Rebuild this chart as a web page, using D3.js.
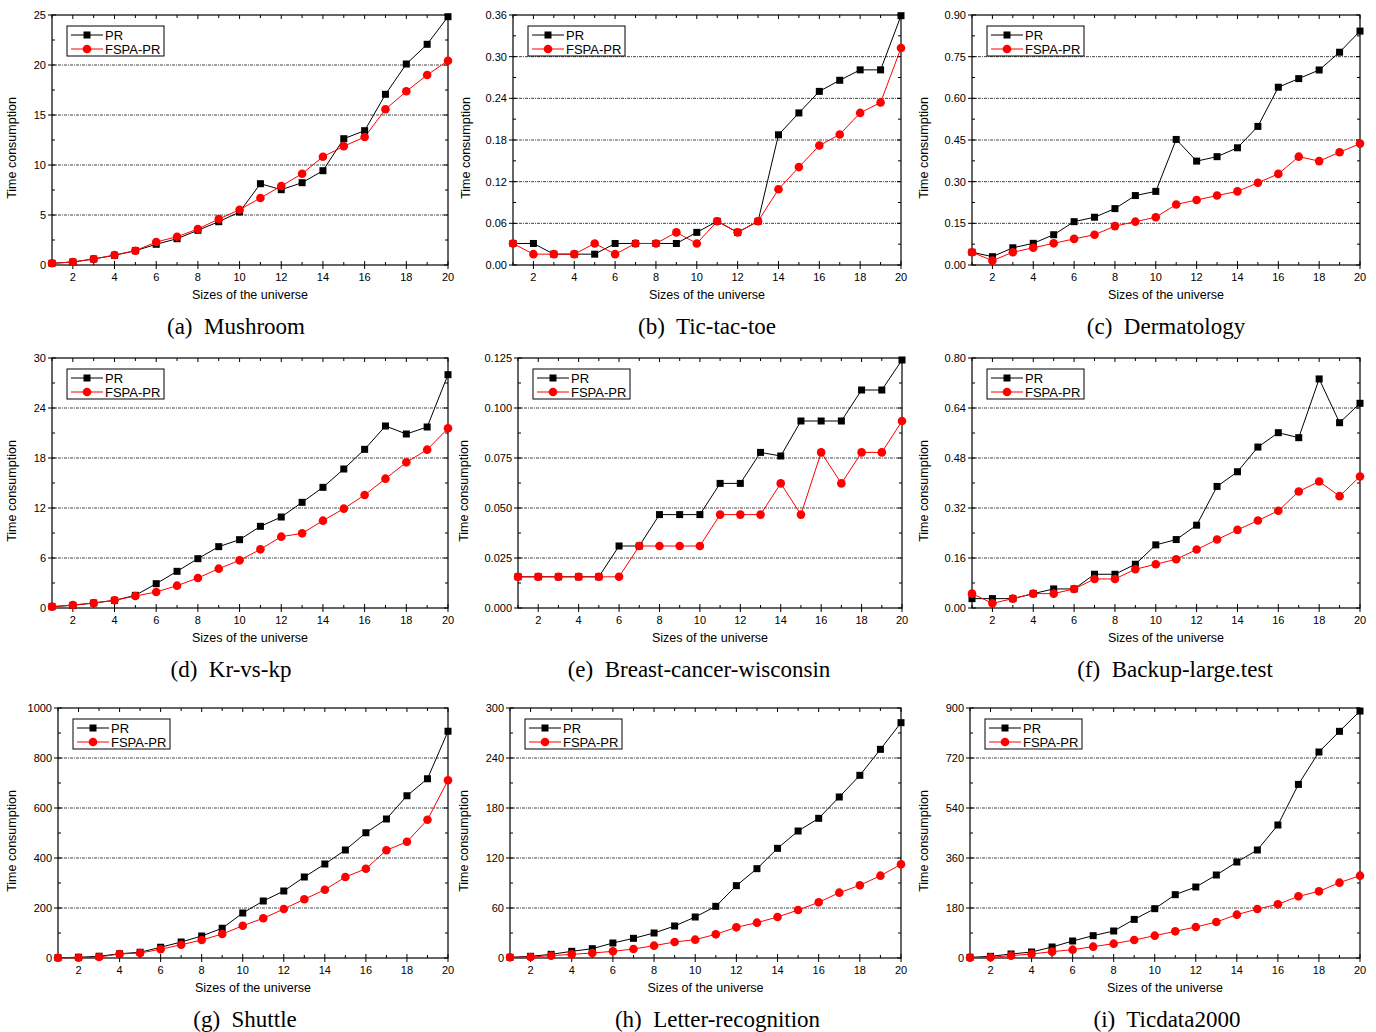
<!DOCTYPE html>
<html>
<head>
<meta charset="utf-8">
<script src="https://cdn.jsdelivr.net/npm/d3@7"></script>
<style>
    body { margin: 0; background: #fff; }
    svg text { font-family: "Liberation Sans", Arial, sans-serif; }
</style>
</head>
<body>
<svg id="chart" width="1376" height="1032"></svg>
<script>
const sizes = d3.range(1, 21);

const mushroomPR = [0.17, 0.3, 0.6, 0.97, 1.43, 2.07, 2.63, 3.47, 4.33, 5.3, 8.13, 7.53, 8.23, 9.43, 12.63, 13.43, 17.07, 20.1, 22.07, 24.83];
const mushroomFSPA = [0.17, 0.3, 0.6, 1.0, 1.43, 2.3, 2.83, 3.6, 4.6, 5.53, 6.7, 7.9, 9.13, 10.83, 11.87, 12.8, 15.57, 17.37, 19.0, 20.43];

const tictactoePR = [0.031, 0.031, 0.0156, 0.0156, 0.0156, 0.031, 0.031, 0.031, 0.031, 0.047, 0.063, 0.047, 0.063, 0.1875, 0.219, 0.25, 0.266, 0.281, 0.281, 0.359];
const tictactoeFSPA = [0.031, 0.0156, 0.0156, 0.0156, 0.031, 0.0156, 0.031, 0.031, 0.047, 0.031, 0.063, 0.047, 0.063, 0.109, 0.141, 0.172, 0.188, 0.219, 0.234, 0.3125];

const dermatologyPR = [0.046, 0.03, 0.062, 0.078, 0.109, 0.156, 0.172, 0.203, 0.25, 0.265, 0.452, 0.374, 0.39, 0.422, 0.499, 0.64, 0.671, 0.702, 0.766, 0.842];
const dermatologyFSPA = [0.046, 0.0156, 0.046, 0.062, 0.078, 0.094, 0.109, 0.14, 0.156, 0.172, 0.218, 0.234, 0.25, 0.265, 0.296, 0.328, 0.39, 0.374, 0.406, 0.437];

const krvskpPR = [0.16, 0.32, 0.6, 0.92, 1.52, 2.92, 4.4, 5.92, 7.36, 8.2, 9.8, 10.92, 12.68, 14.48, 16.68, 19.04, 21.84, 20.88, 21.72, 28.0];
const krvskpFSPA = [0.16, 0.36, 0.6, 0.92, 1.44, 1.92, 2.68, 3.6, 4.72, 5.72, 7.04, 8.56, 8.96, 10.48, 11.92, 13.56, 15.52, 17.48, 19.0, 21.56];

const breastPR = [0.0156, 0.0156, 0.0156, 0.0156, 0.0156, 0.031, 0.031, 0.0467, 0.0467, 0.0467, 0.0623, 0.0623, 0.0778, 0.076, 0.0935, 0.0935, 0.0935, 0.109, 0.109, 0.124];
const breastFSPA = [0.0156, 0.0156, 0.0156, 0.0156, 0.0156, 0.0156, 0.031, 0.031, 0.031, 0.031, 0.0467, 0.0467, 0.0467, 0.0623, 0.0467, 0.0778, 0.0623, 0.0778, 0.0778, 0.0935];

const backupPR = [0.03, 0.03, 0.03, 0.046, 0.061, 0.061, 0.108, 0.108, 0.14, 0.202, 0.219, 0.265, 0.389, 0.436, 0.515, 0.561, 0.545, 0.733, 0.593, 0.655];
const backupFSPA = [0.046, 0.015, 0.03, 0.046, 0.046, 0.061, 0.093, 0.093, 0.124, 0.14, 0.156, 0.187, 0.219, 0.25, 0.28, 0.311, 0.373, 0.405, 0.358, 0.421];

const shuttlePR = [1, 3, 7, 17, 23, 43, 64, 88, 119, 180, 228, 268, 324, 376, 432, 501, 556, 649, 717, 907];
const shuttleFSPA = [1, 1, 4, 16, 20, 35, 53, 72, 96, 129, 159, 196, 235, 273, 324, 357, 431, 465, 553, 711];

const letterPR = [0.8, 2, 4.4, 8, 11.2, 18, 23.6, 30, 38.4, 49.2, 62, 86.8, 107.2, 131.6, 152.4, 167.6, 193.2, 219.2, 250.4, 282.4];
const letterFSPA = [0.8, 1.2, 2.8, 4.4, 6, 8, 10.8, 14.8, 19.2, 22, 28.4, 36.8, 42.4, 49.2, 57.6, 66.8, 78.4, 87.2, 98.8, 112.4];

const ticdataPR = [2.4, 6, 14.4, 21.6, 39.6, 61.2, 80.4, 97.2, 139, 177.6, 228, 255.6, 298.8, 345.6, 388.8, 478.8, 625, 741.6, 816, 889];
const ticdataFSPA = [1.2, 2.4, 8.4, 14.4, 22.8, 30, 40.8, 51.6, 64.8, 80.4, 96, 111.6, 129.6, 156, 176.4, 193.2, 222, 240, 271.2, 296.4];

const seriesNames = ["PR", "FSPA-PR"];

const panels = [
    {caption: "(a)  Mushroom", pr: mushroomPR, fspa: mushroomFSPA, yMax: 25, yStep: 5, fmt: "d", left: 52, right: 448, top: 15, bottom: 265, titleX: 16, capDx: -14},
    {caption: "(b)  Tic-tac-toe", pr: tictactoePR, fspa: tictactoeFSPA, yMax: 0.36, yStep: 0.06, fmt: ".2f", left: 513, right: 901, top: 15, bottom: 265, titleX: 470, capDx: 0},
    {caption: "(c)  Dermatology", pr: dermatologyPR, fspa: dermatologyFSPA, yMax: 0.9, yStep: 0.15, fmt: ".2f", left: 972, right: 1360, top: 15, bottom: 265, titleX: 928, capDx: 0},
    {caption: "(d)  Kr-vs-kp", pr: krvskpPR, fspa: krvskpFSPA, yMax: 30, yStep: 6, fmt: "d", left: 52, right: 448, top: 358, bottom: 608, titleX: 16, capDx: -19},
    {caption: "(e)  Breast-cancer-wisconsin", pr: breastPR, fspa: breastFSPA, yMax: 0.125, yStep: 0.025, fmt: ".3f", left: 518, right: 902, top: 358, bottom: 608, titleX: 468, capDx: -11},
    {caption: "(f)  Backup-large.test", pr: backupPR, fspa: backupFSPA, yMax: 0.8, yStep: 0.16, fmt: ".2f", left: 972, right: 1360, top: 358, bottom: 608, titleX: 928, capDx: 9},
    {caption: "(g)  Shuttle", pr: shuttlePR, fspa: shuttleFSPA, yMax: 1000, yStep: 200, fmt: "d", left: 58, right: 448, top: 708, bottom: 958, titleX: 16, capDx: -8},
    {caption: "(h)  Letter-recognition", pr: letterPR, fspa: letterFSPA, yMax: 300, yStep: 60, fmt: "d", left: 510, right: 901, top: 708, bottom: 958, titleX: 468, capDx: 12},
    {caption: "(i)  Ticdata2000", pr: ticdataPR, fspa: ticdataFSPA, yMax: 900, yStep: 180, fmt: "d", left: 970, right: 1360, top: 708, bottom: 958, titleX: 928, capDx: 2},
];

const svg = d3.select("#chart");

function drawPanel(p) {
    const x = d3.scaleLinear().domain([1, 20]).range([p.left, p.right]);
    const y = d3.scaleLinear().domain([0, p.yMax]).range([p.bottom, p.top]);
    const g = svg.append("g");

    const majorY = d3.range(0, p.yMax + p.yStep / 2, p.yStep);
    const minorY = d3.range(p.yStep / 2, p.yMax, p.yStep);
    const majorX = d3.range(2, 21, 2);
    const minorX = d3.range(1, 21, 2);

    // grid
    g.selectAll(".grid")
        .data(majorY.slice(1, -1))
        .enter()
        .append("line")
        .attr("x1", p.left).attr("x2", p.right)
        .attr("y1", d => y(d)).attr("y2", d => y(d))
        .attr("stroke", "#444")
        .attr("stroke-width", 1)
        .attr("stroke-dasharray", "3,1,1,1");

    // frame
    g.append("rect")
        .attr("x", p.left).attr("y", p.top)
        .attr("width", p.right - p.left).attr("height", p.bottom - p.top)
        .attr("fill", "none").attr("stroke", "#000").attr("stroke-width", 1.2);

    // ticks on all four sides
    const tickLines = [];
    majorY.forEach(v => {
        tickLines.push([p.left - 4, y(v), p.left + 4, y(v)]);
        tickLines.push([p.right - 4, y(v), p.right, y(v)]);
    });
    minorY.forEach(v => {
        tickLines.push([p.left, y(v), p.left + 3, y(v)]);
        tickLines.push([p.right - 3, y(v), p.right, y(v)]);
    });
    majorX.forEach(v => {
        tickLines.push([x(v), p.bottom + 4, x(v), p.bottom - 4]);
        tickLines.push([x(v), p.top, x(v), p.top + 4]);
    });
    minorX.forEach(v => {
        tickLines.push([x(v), p.bottom, x(v), p.bottom - 3]);
        tickLines.push([x(v), p.top, x(v), p.top + 3]);
    });
    g.selectAll(".tick")
        .data(tickLines)
        .enter()
        .append("line")
        .attr("x1", d => d[0]).attr("y1", d => d[1])
        .attr("x2", d => d[2]).attr("y2", d => d[3])
        .attr("stroke", "#000").attr("stroke-width", 1);

    const fmt = d3.format(p.fmt);
    g.selectAll(".ylab")
        .data(majorY)
        .enter()
        .append("text")
        .attr("x", p.left - 6)
        .attr("y", d => y(d) + 4)
        .attr("text-anchor", "end")
        .style("font-size", "11px")
        .text(d => fmt(d));

    g.selectAll(".xlab")
        .data(majorX)
        .enter()
        .append("text")
        .attr("x", d => x(d))
        .attr("y", p.bottom + 16)
        .attr("text-anchor", "middle")
        .style("font-size", "11px")
        .text(d => d);

    const midX = (p.left + p.right) / 2;
    g.append("text")
        .attr("x", midX)
        .attr("y", p.bottom + 34)
        .attr("text-anchor", "middle")
        .style("font-size", "12.5px")
        .text("Sizes of the universe");

    g.append("text")
        .attr("transform", `translate(${p.titleX}, ${(p.top + p.bottom) / 2 + 8}) rotate(-90)`)
        .attr("text-anchor", "middle")
        .style("font-size", "12.5px")
        .text("Time consumption");

    // caption
    g.append("text")
        .attr("x", midX + p.capDx)
        .attr("y", p.bottom + 69)
        .attr("text-anchor", "middle")
        .style("font-family", "'Liberation Serif', 'Times New Roman', serif")
        .style("font-size", "23px")
        .style("white-space", "pre")
        .text(p.caption);

    // lines and markers
    const line = d3.line().x((d, i) => x(sizes[i])).y(d => y(d));
    g.append("path").datum(p.pr).attr("d", line)
        .attr("fill", "none").attr("stroke", "#000").attr("stroke-width", 1);
    g.append("path").datum(p.fspa).attr("d", line)
        .attr("fill", "none").attr("stroke", "#ff0000").attr("stroke-width", 1);

    g.selectAll(".sq")
        .data(p.pr)
        .enter()
        .append("rect")
        .attr("x", (d, i) => x(sizes[i]) - 3.5)
        .attr("y", d => y(d) - 3.5)
        .attr("width", 7).attr("height", 7)
        .attr("fill", "#000");
    g.selectAll(".dot")
        .data(p.fspa)
        .enter()
        .append("circle")
        .attr("cx", (d, i) => x(sizes[i]))
        .attr("cy", d => y(d))
        .attr("r", 4.3)
        .attr("fill", "#ff0000");

    // legend
    const lx = p.left + 15, ly = p.top + 11;
    const leg = g.append("g").attr("transform", `translate(${lx}, ${ly})`);
    leg.append("rect")
        .attr("width", 97).attr("height", 30)
        .attr("fill", "#fff").attr("stroke", "#000").attr("stroke-width", 1);
    seriesNames.forEach((name, i) => {
        const yy = 9 + i * 14;
        const col = i === 0 ? "#000" : "#ff0000";
        leg.append("line")
            .attr("x1", 4).attr("x2", 36).attr("y1", yy).attr("y2", yy)
            .attr("stroke", col).attr("stroke-width", 1);
        if (i === 0) {
            leg.append("rect").attr("x", 16.5).attr("y", yy - 3.5)
                .attr("width", 7).attr("height", 7).attr("fill", col);
        } else {
            leg.append("circle").attr("cx", 20).attr("cy", yy).attr("r", 4.3).attr("fill", col);
        }
        leg.append("text")
            .attr("x", 38).attr("y", yy + 4.5)
            .style("font-size", "13px")
            .text(name);
    });
}

panels.forEach(drawPanel);
</script>
</body>
</html>
